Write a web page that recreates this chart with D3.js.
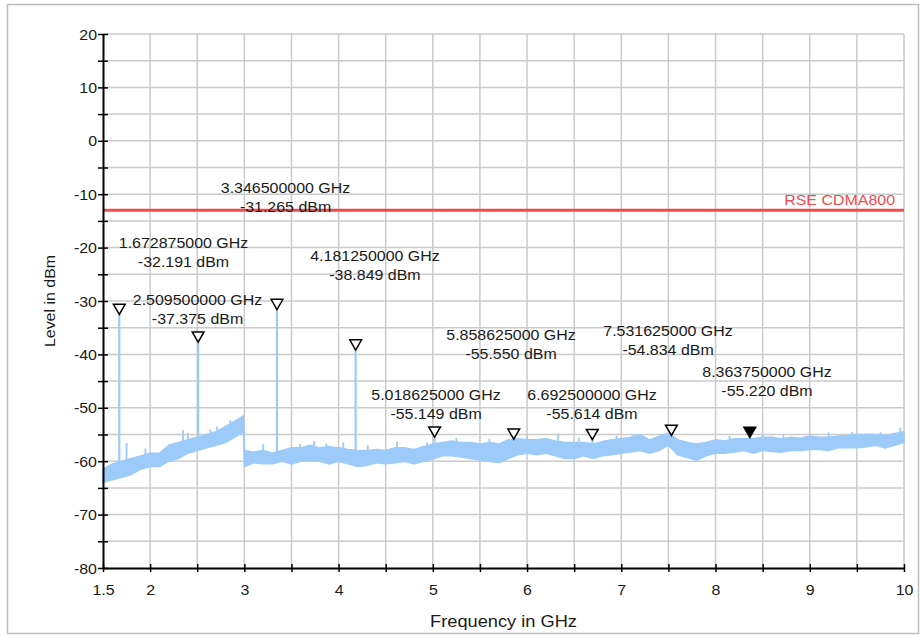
<!DOCTYPE html>
<html>
<head>
<meta charset="utf-8">
<script src="https://cdn.jsdelivr.net/npm/d3@7"></script>
<style>
  body { margin: 0; background: #fff; }
  text { font-family: "Liberation Sans", Arial, sans-serif; fill: #1a1a1a; }
</style>
</head>
<body>
<div id="chart"></div>
<script>
// trace envelope (GHz, upper / lower level in dBm)
const traceFreq = [1.5, 1.6, 1.7, 1.8, 1.9, 2.0, 2.1, 2.2, 2.3, 2.4, 2.5, 2.6, 2.7, 2.8, 2.9, 2.99,
  3.0, 3.1, 3.2, 3.3, 3.4, 3.5, 3.6, 3.7, 3.8, 3.9, 4.0, 4.1, 4.2, 4.3, 4.4, 4.5, 4.6, 4.7, 4.8, 4.9,
  5.0, 5.1, 5.2, 5.3, 5.4, 5.5, 5.6, 5.7, 5.8, 5.9, 6.0, 6.1, 6.2, 6.3, 6.4, 6.5, 6.6, 6.7, 6.8, 6.9,
  7.0, 7.1, 7.2, 7.3, 7.4, 7.5, 7.6, 7.7, 7.8, 7.9, 8.0, 8.1, 8.2, 8.3, 8.4, 8.5, 8.6, 8.7, 8.8, 8.9,
  9.0, 9.1, 9.2, 9.3, 9.4, 9.5, 9.6, 9.7, 9.8, 9.9, 10.0];
const traceTop = [-61.5, -60.5, -60.0, -59.5, -59.0, -58.5, -58.5, -57.0, -56.5, -56.0, -55.5, -55.0, -54.5, -53.5, -52.5, -51.5,
  -58.0, -58.3, -58.0, -58.5, -58.0, -57.5, -57.5, -57.0, -57.5, -57.3, -57.5, -57.8, -58.0, -58.0, -57.8, -58.0, -57.5, -57.5, -57.8, -57.3,
  -56.8, -56.5, -56.2, -56.5, -56.5, -56.8, -56.5, -56.8, -56.0, -55.8, -56.0, -56.0, -55.8, -56.2, -56.5, -56.5, -56.5, -56.8, -56.3, -56.0,
  -55.8, -55.5, -55.0, -56.0, -55.3, -54.8, -56.0, -56.5, -56.8, -56.5, -56.0, -56.2, -55.8, -55.8, -55.8, -55.5, -55.5, -55.8, -55.5, -55.7,
  -55.3, -55.5, -55.5, -55.3, -55.2, -55.0, -55.0, -55.0, -55.2, -54.8, -54.5];
const traceBottom = [-64.0, -63.5, -63.0, -62.5, -61.5, -61.0, -61.0, -60.0, -59.5, -58.5, -58.0, -57.5, -57.0, -56.5, -55.5, -54.5,
  -61.0, -60.3, -60.5, -60.5, -60.0, -60.5, -60.0, -59.8, -60.0, -60.5, -60.0, -60.5, -61.0, -60.8, -60.3, -60.5, -60.3, -60.0, -60.5, -60.0,
  -59.6, -59.0, -59.0, -59.2, -59.5, -59.8, -60.0, -60.3, -59.5, -58.8, -58.5, -58.8, -58.5, -59.0, -59.5, -59.5, -59.0, -59.5, -59.0, -58.8,
  -58.5, -58.3, -58.0, -58.5, -58.0, -57.0, -58.8, -59.3, -59.8, -59.0, -58.5, -58.5, -58.3, -58.0, -58.5, -58.0, -58.2, -58.3, -58.0, -58.0,
  -57.8, -57.8, -58.0, -57.5, -57.5, -57.5, -57.3, -57.0, -57.5, -57.0, -56.5];

// small spurs sticking out of the noise
const spurFreq = [1.75, 1.95, 2.35, 2.40, 2.64, 2.71, 2.85, 3.20, 3.59, 3.74, 3.87, 4.05, 4.31, 4.62, 4.94,
  5.25, 5.60, 6.00, 6.33, 6.55, 6.95, 7.12, 7.94, 8.15, 8.50, 8.72, 9.20, 9.45, 9.75, 9.96];
const spurLevel = [-56.6, -57.6, -54.2, -54.7, -54.1, -53.5, -52.3, -56.8, -56.8, -56.2, -56.7, -56.5, -57.0, -56.3, -56.5,
  -55.6, -55.8, -55.4, -54.8, -55.6, -55.2, -55.0, -56.2, -55.3, -55.0, -55.0, -54.6, -54.5, -54.6, -53.7];

// markers
const markerFreq = [1.672875, 2.5095, 3.3465, 4.18125, 5.018625, 5.858625, 6.6925, 7.531625, 8.36375];
const markerLevel = [-32.191, -37.375, -31.265, -38.849, -55.149, -55.550, -55.614, -54.834, -55.220];
const markerFilled = [false, false, false, false, false, false, false, false, true];
// label anchors (GHz, dBm) of first text line
const labelFreq = [2.354, 2.503, 3.437, 4.386, 5.034, 5.830, 6.689, 7.496, 8.546];
const labelLevel = [-20.07, -30.75, -9.78, -22.45, -48.54, -37.30, -48.54, -36.55, -44.23];

const limitLevel = -13;
const limitName = "RSE CDMA800";

const xTicks = d3.range(1.5, 10.01, 0.5);
const yTicks = d3.range(-80, 20.01, 5);

const width = 923, height = 635;
const margin = { left: 103, right: 19, top: 34, bottom: 67 };
const stretch = 1.14;
const traceColor = "#9dcbf9";

const svg = d3.select("#chart").append("svg")
  .attr("width", width)
  .attr("height", height);

// outer frame
svg.append("rect")
  .attr("x", 7.5).attr("y", 4.5)
  .attr("width", 911).attr("height", 629)
  .attr("fill", "none")
  .attr("stroke", "#bdbdbd")
  .attr("stroke-width", 1.5);

const x = d3.scaleLinear().domain([1.5, 10]).range([margin.left, width - margin.right]);
const y = d3.scaleLinear().domain([-80, 20]).range([height - margin.bottom, margin.top]);

// grid
svg.append("g").selectAll("line")
  .data(xTicks.filter(d => d > 1.5))
  .join("line")
    .attr("x1", d => x(d)).attr("x2", d => x(d))
    .attr("y1", y(20)).attr("y2", y(-80))
    .attr("stroke", "#cbcbcb").attr("stroke-width", 1.5);
svg.append("g").selectAll("line")
  .data(yTicks.filter(d => d > -80))
  .join("line")
    .attr("x1", x(1.5)).attr("x2", x(10))
    .attr("y1", d => y(d)).attr("y2", d => y(d))
    .attr("stroke", "#cbcbcb").attr("stroke-width", 1.5);

// trace band
const band = traceFreq.map((f, i) => ({ f, top: traceTop[i], bot: traceBottom[i] }));
const area = d3.area()
  .x(d => x(d.f))
  .y0(d => y(d.bot))
  .y1(d => y(d.top));
svg.append("path")
  .datum(band)
  .attr("d", area)
  .attr("fill", traceColor)
  .attr("stroke", traceColor)
  .attr("stroke-width", 1.5);

// level of the band top at a given frequency (to root spikes in the noise)
const bandTop = f => {
  const i = Math.max(1, d3.bisectLeft(traceFreq, f));
  const f0 = traceFreq[i - 1], f1 = traceFreq[i];
  const t = (f - f0) / (f1 - f0);
  return traceTop[i - 1] + t * (traceTop[i] - traceTop[i - 1]);
};

// spurs
svg.append("g").selectAll("line")
  .data(spurFreq)
  .join("line")
    .attr("x1", d => x(d)).attr("x2", d => x(d))
    .attr("y1", (d, i) => y(spurLevel[i]))
    .attr("y2", d => y(bandTop(d) - 1.5))
    .attr("stroke", traceColor).attr("stroke-width", 1.8);

// marker spikes
svg.append("g").selectAll("line")
  .data(markerFreq)
  .join("line")
    .attr("x1", d => x(d)).attr("x2", d => x(d))
    .attr("y1", (d, i) => y(markerLevel[i]))
    .attr("y2", d => y(bandTop(d) - 1.5))
    .attr("stroke", traceColor).attr("stroke-width", 2.2);

// limit line
svg.append("line")
  .attr("x1", x(1.5)).attr("x2", x(10))
  .attr("y1", y(limitLevel)).attr("y2", y(limitLevel))
  .attr("stroke", "#f24b4b").attr("stroke-width", 3);
svg.append("text")
  .attr("transform", `translate(${x(10) - 9},${y(limitLevel) - 5}) scale(${stretch},1)`)
  .attr("text-anchor", "end")
  .style("font-size", "14px")
  .style("fill", "#f24b4b")
  .text(limitName);

// axes
const xAxis = svg.append("g")
  .attr("transform", `translate(0,${y(-80)})`)
  .call(d3.axisBottom(x).tickValues(xTicks).tickSizeOuter(0)
    .tickFormat(d => (d === 1.5 || d % 1 === 0) ? String(d) : ""));
xAxis.select(".domain").attr("stroke", "#000").attr("stroke-width", 2);
xAxis.selectAll(".tick line").attr("y1", -4).attr("y2", 4).attr("stroke", "#000").attr("stroke-width", 1.5);
xAxis.selectAll(".tick text")
  .attr("y", 0).attr("dy", 0)
  .attr("transform", `translate(0,27) scale(${stretch},1)`)
  .style("font-size", "14px").style("fill", "#1a1a1a");

const yAxis = svg.append("g")
  .attr("transform", `translate(${x(1.5)},0)`)
  .call(d3.axisLeft(y).tickValues(yTicks).tickSizeOuter(0)
    .tickFormat(d => d % 10 === 0 ? String(d) : ""));
yAxis.select(".domain").attr("stroke", "#000").attr("stroke-width", 2);
yAxis.selectAll(".tick line").attr("x1", -5).attr("x2", 5).attr("stroke", "#000").attr("stroke-width", 1.5);
yAxis.selectAll(".tick text")
  .attr("x", 0).attr("dy", 0)
  .attr("transform", `translate(-6,5) scale(${stretch},1)`)
  .style("font-size", "14px").style("fill", "#1a1a1a");

svg.append("text")
  .attr("transform", `translate(${(x(1.5) + x(10)) / 2},627) scale(${stretch},1)`)
  .attr("text-anchor", "middle")
  .style("font-size", "16px")
  .text("Frequency in GHz");
svg.append("text")
  .attr("transform", `translate(55,${(y(20) + y(-80)) / 2}) rotate(-90) scale(${stretch},1)`)
  .attr("text-anchor", "middle")
  .style("font-size", "14px")
  .text("Level in dBm");

// marker triangles
const tri = d3.symbol().type(d3.symbolTriangle).size(60);
svg.append("g").selectAll("path")
  .data(markerFreq)
  .join("path")
    .attr("d", tri)
    .attr("transform", (d, i) => `translate(${x(d)},${y(markerLevel[i]) - 5}) rotate(180)`)
    .attr("fill", (d, i) => markerFilled[i] ? "#000" : "#fff")
    .attr("stroke", "#000")
    .attr("stroke-width", 1.5);

// marker labels
const labels = svg.append("g").selectAll("g")
  .data(markerFreq)
  .join("g")
    .attr("transform", (d, i) => `translate(${x(labelFreq[i])},${y(labelLevel[i])}) scale(${stretch},1)`);
labels.append("text")
  .attr("text-anchor", "middle")
  .style("font-size", "14px")
  .text(d => d.toFixed(9) + " GHz");
labels.append("text")
  .attr("text-anchor", "middle")
  .attr("y", 19)
  .style("font-size", "14px")
  .text((d, i) => markerLevel[i].toFixed(3) + " dBm");
</script>
</body>
</html>
